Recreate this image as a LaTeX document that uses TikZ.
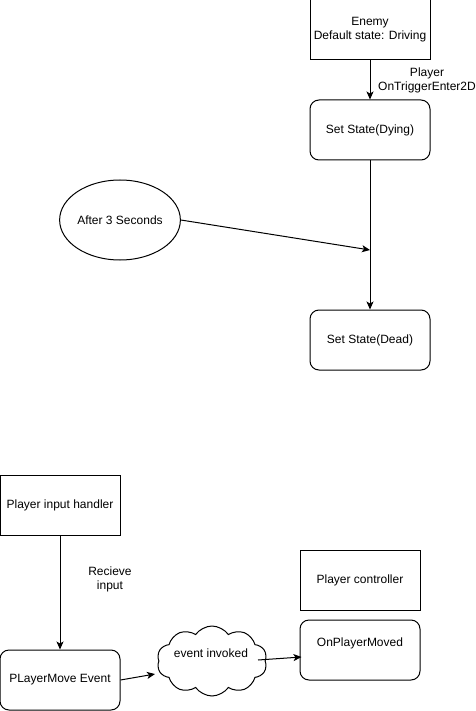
\documentclass[tikz,border=0pt]{standalone}
\usepackage{fontspec}
\setmainfont{Liberation Sans}
\usetikzlibrary{arrows.meta,shapes.geometric,shapes.symbols,calc}
\begin{document}
\begin{tikzpicture}[x=1pt,y=-1pt,
  every node/.style={font=\fontsize{12}{14}\selectfont, inner sep=0pt},
  box/.style={draw, line width=1pt, minimum width=120pt, minimum height=60pt, align=center},
  rbox/.style={box, rounded corners=9pt},
  oval/.style={draw, line width=1pt, ellipse, minimum width=120pt, minimum height=80pt},
  puff/.style={draw, line width=1pt, cloud, cloud puffs=10, cloud puff arc=110, aspect=1.6, minimum width=110pt, minimum height=70pt},
  arr/.style={draw, line width=1pt, -{Stealth[length=8pt,width=7pt,inset=2pt]}},
  lbl/.style={align=center}]
\useasboundingbox (0,0) rectangle (475,711);
\fill[white] (0,0) rectangle (475,711);
% top part
\node[box] (enemy) at (370,30) {Enemy\\Default state: Driving};
\node[rbox] (dying) at (370,130) {Set State(Dying)};
\node[rbox] (dead) at (370,340) {Set State(Dead)};
\node[oval] (after) at (120,220) {After 3 Seconds};
\coordinate (join) at (370,250);
\draw[arr] (enemy.south) -- (dying.north);
\node[lbl] (trig) at (427,80) {Player\\OnTriggerEnter2D};
\draw[arr] (dying.south) -- (dead.north);
\draw[arr] (after.east) -- (join);
% bottom part
\node[box] (pih) at (60,505) {Player input handler};
\node[rbox] (pme) at (60,680) {PLayerMove Event};
\node[box] (pc) at (360,580) {Player controller};
\node[rbox] (opm) at (360,650) {};
\node (opmtext) at (360,643) {OnPlayerMoved};
\node[puff] (ev) at (212,661) {};
\node (evtext) at (211,653) {event invoked};
\draw[arr] (pih.south) -- (pme.north);
\node[lbl] (recv) at (110,579) {Recieve\\input};
\draw[arr] (pme.east) -- ($(ev.center)+(-57,13)$);
\draw[arr] ($(ev.center)+(46,-1)$) -- ($(opm.west)+(2,7)$);
\end{tikzpicture}
\end{document}
